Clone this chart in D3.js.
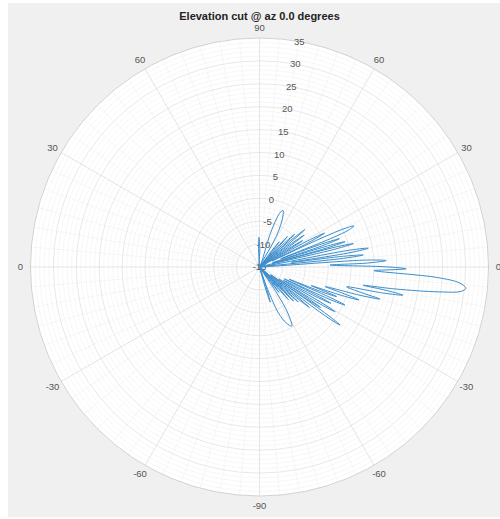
<!DOCTYPE html>
<html lang="en">
<head>
  <meta charset="UTF-8">
  <script src="https://cdn.jsdelivr.net/npm/d3@7"></script>
  <title>Elevation cut</title>
  <style>
    body { margin: 0; background: #fff; }
    text { font-family: "Liberation Sans", Arial, sans-serif; }
  </style>
</head>
<body>
  <svg></svg>
</body>
<script>
const width = 500;
const height = 519;
const cx = 259.5;
const cy = 267;
const radius = 229;

// pattern trace: elevation (deg) and gain (dB)
const elevDeg = [
  100, 93, 91, 89, 84,
  72, 69.5, 67.5, 65, 61.5, 57,
  53.3, 52, 50.7, 50,
  48.6, 47.5, 46.4, 45.5,
  44.1, 43, 41.9, 41.2,
  40.5, 39.5, 38.5, 37.7,
  36.5, 35.5, 34.5, 33.6,
  32.5, 31.5, 30.5, 29.6,
  28.5, 27.5, 26.5, 25.8,
  25, 24.3, 23.5, 22.5, 21.8, 21.2,
  20.3, 19.5, 18.7, 18,
  17.2, 16.5, 15.8, 15.3,
  14.7, 14, 13.3, 12.2,
  10.6, 9.8, 9, 8.3,
  7.3, 6.6, 5.9, 5,
  3.7, 2.9, 2.1, 1.6,
  0.1, -0.7, -1.3, -1.8,
  -3.4, -4.6, -5.9, -6.9, -7.9, -9.2, -10,
  -10.4, -11.1, -11.9, -12.8,
  -14.1, -14.9, -15.7, -16.6,
  -17.5, -18.3, -19.1, -19.8,
  -20.4, -21, -21.7, -22.5,
  -23.3, -24, -24.8, -25.6,
  -26.4, -27, -27.7, -29,
  -29.9, -30.6, -31.4, -32,
  -32.9, -33.5, -34.2, -34.7,
  -35.1, -35.8, -36.6, -37.5,
  -38.4, -39, -39.7, -40.5,
  -41.3, -42, -42.8, -43.6,
  -44.3, -45, -45.8, -46.8,
  -47.7, -48.5, -49.3, -50.5,
  -51.6, -52.5, -53.4, -55,
  -56.5, -58.5, -61.4, -64.5, -67.5, -70, -71,
  -71.8, -73, -74.4, -77,
  -90
];
const gainDb = [
  -15, -11, -8.5, -11, -15,
  -7, -2.5, -1.6, -3, -7, -15,
  -11, -8, -11, -15,
  -9.5, -6, -9.5, -15,
  -8, -4.5, -8, -15,
  -6, -2.2, -6, -15,
  -7, -3, -7, -15,
  -8, -4, -8, -15,
  -3, 1, -3, -12,
  0, 5.5, 7.5, 6, 2, -10,
  -0.5, 3.5, -0.5, -12,
  0.5, 4.5, 0.5, -12,
  2, 6.1, 2, -15,
  5, 9.1, 5, -8,
  3.5, 7.8, 3.5, -15,
  8.5, 12.7, 8.5, 0.4,
  12.5, 17, 13, 10,
  24, 28.9, 30.3, 29.3, 24.5, 15, 8,
  12.5, 16.9, 12.5, 4.5,
  8, 12.2, 8, 0,
  4, 7.9, 4, -3,
  0, 3, 0, -8,
  1.5, 5.4, 1.5, -9,
  -1, 2.5, -1, -9,
  0.5, 4.2, 0.5, -10,
  -2.5, 1, -2.5, -12,
  3, 6.7, 3, -12,
  -4.5, -1, -4.5, -15,
  -7, -3.6, -7, -15,
  -8, -4.5, -8, -15,
  -9, -5.5, -9, -15,
  -11, -8, -11, -15,
  -8, -3, -0.3, -1.5, -4, -10, -15,
  -10, -7, -10, -15,
  -15
];

const rTicks = [-15, -10, -5, 0, 5, 10, 15, 20, 25, 30, 35];
// angle labels going counter-clockwise from the top of the circle
const angleTicks = [90, 60, 30, 0, -30, -60, -90, -60, -30, 0, 30, 60];
const title = 'Elevation cut @ az 0.0 degrees';

const svg = d3.select('svg').attr('width', width).attr('height', height);

svg.append('rect')
  .attr('x', 8).attr('y', 3)
  .attr('width', 492).attr('height', 514)
  .attr('fill', '#f0f0f0');

const rScale = d3.scaleLinear().domain([-15, 35]).range([0, radius]).clamp(true);
const toAngle = deg => (90 - deg) * Math.PI / 180;
const rad = deg => deg * Math.PI / 180;

const g = svg.append('g').attr('transform', `translate(${cx},${cy})`);

g.append('circle').attr('r', radius).attr('fill', '#fff');

// minor circles every 1 dB
const minorR = d3.range(-14, 35, 1).filter(v => v % 5 !== 0);
g.append('g').selectAll('circle')
  .data(minorR)
  .enter()
  .append('circle')
  .attr('r', d => rScale(d))
  .attr('fill', 'none')
  .attr('stroke', '#e8e8e8')
  .attr('stroke-width', 0.6)
  .attr('stroke-dasharray', '1.5,1');

// minor spokes every 5 degrees
const minorA = d3.range(0, 360, 5).filter(v => v % 30 !== 0);
g.append('g').selectAll('line')
  .data(minorA)
  .enter()
  .append('line')
  .attr('x1', d => rScale(-10) * Math.cos(rad(d)))
  .attr('y1', d => -rScale(-10) * Math.sin(rad(d)))
  .attr('x2', d => radius * Math.cos(rad(d)))
  .attr('y2', d => -radius * Math.sin(rad(d)))
  .attr('stroke', '#e8e8e8')
  .attr('stroke-width', 0.6)
  .attr('stroke-dasharray', '1.5,1');

// major circles every 5 dB
g.append('g').selectAll('circle')
  .data(rTicks.slice(1, -1))
  .enter()
  .append('circle')
  .attr('r', d => rScale(d))
  .attr('fill', 'none')
  .attr('stroke', '#dedede')
  .attr('stroke-width', 0.7);

// major spokes every 30 degrees
g.append('g').selectAll('line')
  .data(d3.range(0, 360, 30))
  .enter()
  .append('line')
  .attr('x1', 0).attr('y1', 0)
  .attr('x2', d => radius * Math.cos(rad(d)))
  .attr('y2', d => -radius * Math.sin(rad(d)))
  .attr('stroke', '#dadada')
  .attr('stroke-width', 0.7);

g.append('circle')
  .attr('r', radius)
  .attr('fill', 'none')
  .attr('stroke', '#c8c8c8')
  .attr('stroke-width', 0.8);

const labelR = radius + 10;
g.append('g').selectAll('text')
  .data(angleTicks)
  .enter()
  .append('text')
  .attr('x', (d, i) => labelR * Math.cos(rad(90 + i * 30)))
  .attr('y', (d, i) => -labelR * Math.sin(rad(90 + i * 30)))
  .attr('dy', '0.35em')
  .attr('text-anchor', 'middle')
  .attr('font-size', 9.5)
  .attr('fill', '#555')
  .text(d => d);

// radial labels along the 80 degree line
g.append('g').selectAll('text')
  .data(rTicks)
  .enter()
  .append('text')
  .attr('x', d => rScale(d) * Math.cos(rad(80)))
  .attr('y', d => -rScale(d) * Math.sin(rad(80)))
  .attr('dy', '0.35em')
  .attr('text-anchor', 'middle')
  .attr('font-size', 9.5)
  .attr('fill', '#555')
  .text(d => d);

// pattern
const points = elevDeg.map((e, i) => [e, gainDb[i]]);
const line = d3.lineRadial()
  .angle(d => toAngle(d[0]))
  .radius(d => rScale(d[1]))
  .curve(d3.curveCatmullRom.alpha(0.5));

g.append('path')
  .datum(points)
  .attr('d', line)
  .attr('fill', 'none')
  .attr('stroke', '#3a8dcc')
  .attr('stroke-width', 1)
  .attr('stroke-linejoin', 'round');

svg.append('text')
  .attr('x', cx)
  .attr('y', 20)
  .attr('text-anchor', 'middle')
  .attr('font-size', 11)
  .attr('font-weight', 'bold')
  .attr('fill', '#222')
  .text(title);
</script>
</html>
